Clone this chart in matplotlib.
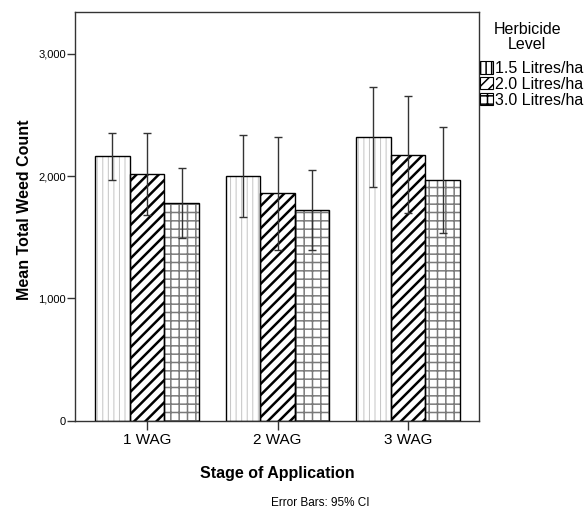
import numpy as np
import matplotlib
matplotlib.use('Agg')
import matplotlib.pyplot as plt
from matplotlib.patches import Patch

plt.rcParams['font.family'] = ['Liberation Sans', 'DejaVu Sans']

stages = ['1 WAG', '2 WAG', '3 WAG']
levels = ['1.5 Litres/ha', '2.0 Litres/ha', '3.0 Litres/ha']

# mean total weed count per level, one value per stage
mean_15 = [2163, 1999, 2323]
mean_20 = [2013, 1858, 2173]
mean_30 = [1784, 1719, 1969]

# 95% CI bounds
lo_15 = [1966, 1662, 1912]
hi_15 = [2350, 2334, 2732]
lo_20 = [1680, 1392, 1699]
hi_20 = [2350, 2318, 2653]
lo_30 = [1495, 1392, 1536]
hi_30 = [2067, 2046, 2400]

means = [mean_15, mean_20, mean_30]
lows = [lo_15, lo_20, lo_30]
highs = [hi_15, hi_20, hi_30]

# hatch style per level: (pattern, hatch colour, hatch linewidth)
styles = [('|||', '#c4c4c4', 0.7), ('///', 'black', 1.8), ('++', '#7a7a7a', 1.1)]

fig = plt.figure(figsize=(5.87, 5.11), dpi=100)
ax = fig.add_axes([0.1278, 0.1767, 0.6888, 0.7992])

x = np.arange(len(stages))
width = 0.265

for i, (m, lo, hi) in enumerate(zip(means, lows, highs)):
    pos = x + (i - 1) * width
    hatch, hcol, hlw = styles[i]
    plt.rcParams['hatch.linewidth'] = hlw
    ax.bar(pos, m, width, color='white', edgecolor=hcol, hatch=hatch,
           linewidth=0, zorder=2)
    ax.bar(pos, m, width, fill=False, edgecolor='black', linewidth=1.0, zorder=3)
    m = np.array(m)
    yerr = [m - np.array(lo), np.array(hi) - m]
    ax.errorbar(pos, m, yerr=yerr, fmt='none', ecolor='#333333',
                elinewidth=1.0, capsize=3, capthick=1.0, zorder=4)

ax.set_xlim(-0.552, 2.546)
ax.set_ylim(0, 3339)
ax.set_yticks([0, 1000, 2000, 3000])
ax.set_yticklabels(['0', '1,000', '2,000', '3,000'])
ax.set_xticks(x)
ax.set_xticklabels(stages)

for s in ax.spines.values():
    s.set_color('#333333')
    s.set_linewidth(1.0)

ax.tick_params(axis='y', direction='out', length=5.5, width=1, colors='#333333',
               labelsize=8, labelcolor='black', pad=1)
ax.tick_params(axis='x', direction='out', length=6.5, width=1, colors='#333333',
               labelsize=11, labelcolor='black', pad=2)

ax.set_xlabel('Stage of Application', fontsize=11.5, fontweight='bold', labelpad=14)
ax.set_ylabel('Mean Total Weed Count', fontsize=11.5, fontweight='bold')
ax.yaxis.set_label_coords(-0.107, 0.516)

handles = []
for (hatch, hcol, hlw) in styles:
    handles.append(Patch(facecolor='white', edgecolor='black', hatch=hatch, linewidth=0.8))

# legend title drawn separately so the gap below it matches
fig.text(0.898, 1 - 37 / 511, 'Herbicide\nLevel', fontsize=11.5, ha='center', va='center',
         multialignment='center', linespacing=1.0)
leg = ax.legend(handles, levels, loc='upper left',
                bbox_to_anchor=(0.818, 1 - 61 / 511), bbox_transform=fig.transFigure,
                frameon=False, fontsize=11.5,
                handlelength=0.8, handleheight=0.8, handletextpad=0.15,
                labelspacing=0.05, borderpad=0, borderaxespad=0)

fig.text(0.545, 0.0157, 'Error Bars: 95% CI', fontsize=8.5, ha='center', va='center')

fig.savefig('out.png', dpi=100)
